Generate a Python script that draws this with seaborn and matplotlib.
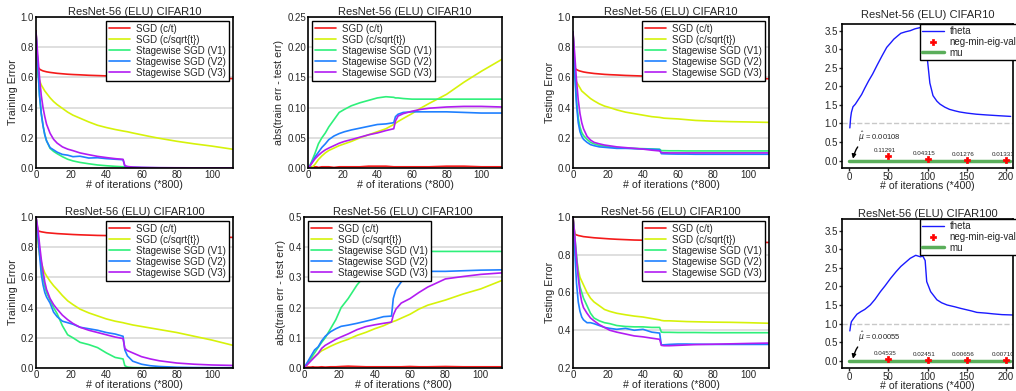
import numpy as np
import pandas as pd
import seaborn as sns
import matplotlib.pyplot as plt

sns.set_theme(style='white')
plt.rcParams['font.family'] = ['Liberation Sans', 'DejaVu Sans']
plt.rcParams['axes.edgecolor'] = 'black'
plt.rcParams['axes.linewidth'] = 1.2
plt.rcParams['mathtext.fontset'] = 'dejavusans'

methods = ['SGD (c/t)', 'SGD (c/sqrt{t})', 'Stagewise SGD (V1)',
           'Stagewise SGD (V2)', 'Stagewise SGD (V3)']
colors = ['#f41a1a', '#d6f20a', '#2ef07a', '#1f80ff', '#b21cf2']

# epochs (x800 iterations)
epochs = [0, 1, 2, 3, 4, 5, 6, 8, 10, 12, 15, 18, 21, 25, 30, 35, 40, 45, 49.5,
          50.5, 52, 55, 60, 65, 70, 80, 90, 100, 112]

# CIFAR10 training error
c10_train_ct = [0.91, 0.67, 0.655, 0.648, 0.643, 0.64, 0.637, 0.633, 0.63, 0.627, 0.624, 0.621, 0.619, 0.617,
                0.614, 0.612, 0.61, 0.608, 0.606, 0.605, 0.605, 0.604, 0.602, 0.601, 0.6, 0.598, 0.596, 0.594, 0.592]
c10_train_sqrt = [0.9, 0.62, 0.58, 0.55, 0.53, 0.51, 0.495, 0.465, 0.44, 0.42, 0.395, 0.37, 0.35, 0.33,
                  0.305, 0.283, 0.268, 0.255, 0.245, 0.243, 0.24, 0.232, 0.22, 0.208, 0.197, 0.177, 0.16, 0.145, 0.124]
c10_train_v1 = [0.9, 0.68, 0.48, 0.36, 0.28, 0.22, 0.18, 0.13, 0.11, 0.095, 0.075, 0.058, 0.047, 0.037,
                0.028, 0.02, 0.015, 0.011, 0.008, 0.004, 0.003, 0.002, 0.001, 0.001, 0.001, 0.001, 0.001, 0.001, 0.001]
c10_train_v2 = [0.9, 0.68, 0.48, 0.36, 0.28, 0.22, 0.18, 0.135, 0.12, 0.105, 0.09, 0.085, 0.075, 0.078,
                0.066, 0.068, 0.062, 0.058, 0.055, 0.012, 0.008, 0.005, 0.003, 0.002, 0.0015, 0.001, 0.001, 0.001, 0.001]
c10_train_v3 = [0.9, 0.75, 0.6, 0.48, 0.4, 0.34, 0.29, 0.23, 0.19, 0.165, 0.14, 0.125, 0.115, 0.1,
                0.088, 0.077, 0.069, 0.062, 0.057, 0.015, 0.01, 0.006, 0.004, 0.003, 0.002, 0.0015, 0.001, 0.001, 0.001]

# CIFAR10 |train err - test err|
c10_gap_ct = [0, 0.001, 0.002, 0.002, 0.002, 0.002, 0.001, 0.002, 0.002, 0.002, 0.001, 0.002, 0.002, 0.002,
              0.002, 0.003, 0.003, 0.003, 0.002, 0.002, 0.002, 0.002, 0.002, 0.002, 0.002, 0.003, 0.003, 0.002, 0.002]
c10_gap_sqrt = [0, 0.0, 0.001, 0.003, 0.006, 0.01, 0.014, 0.02, 0.025, 0.029, 0.033, 0.037, 0.04, 0.044,
                0.05, 0.055, 0.06, 0.065, 0.072, 0.074, 0.077, 0.082, 0.09, 0.099, 0.107, 0.122, 0.142, 0.16, 0.18]
c10_gap_v1 = [0, 0.004, 0.01, 0.017, 0.024, 0.032, 0.04, 0.05, 0.058, 0.068, 0.08, 0.092, 0.097, 0.103,
              0.108, 0.112, 0.116, 0.118, 0.117, 0.116, 0.116, 0.115, 0.114, 0.114, 0.114, 0.114, 0.114, 0.114, 0.114]
c10_gap_v2 = [0, 0.003, 0.008, 0.013, 0.018, 0.022, 0.026, 0.034, 0.04, 0.047, 0.053, 0.057, 0.06, 0.063,
              0.066, 0.069, 0.072, 0.073, 0.075, 0.085, 0.089, 0.092, 0.093, 0.093, 0.093, 0.093, 0.092, 0.091, 0.091]
c10_gap_v3 = [0, 0.003, 0.007, 0.011, 0.015, 0.018, 0.021, 0.026, 0.03, 0.033, 0.037, 0.041, 0.044, 0.047,
              0.051, 0.055, 0.058, 0.062, 0.065, 0.078, 0.086, 0.09, 0.094, 0.097, 0.099, 0.101, 0.102, 0.102, 0.101]

# CIFAR10 testing error
c10_test_ct = [0.9, 0.66, 0.652, 0.646, 0.642, 0.639, 0.636, 0.632, 0.629, 0.626, 0.623, 0.62, 0.618, 0.616,
               0.613, 0.611, 0.609, 0.607, 0.605, 0.604, 0.604, 0.603, 0.601, 0.6, 0.599, 0.597, 0.595, 0.593, 0.591]
c10_test_sqrt = [0.9, 0.6, 0.57, 0.55, 0.53, 0.51, 0.5, 0.48, 0.46, 0.445, 0.425, 0.41, 0.4, 0.385,
                 0.37, 0.36, 0.35, 0.34, 0.335, 0.333, 0.33, 0.328, 0.325, 0.32, 0.315, 0.31, 0.307, 0.305, 0.302]
c10_test_v1 = [0.9, 0.65, 0.45, 0.33, 0.27, 0.235, 0.215, 0.19, 0.17, 0.16, 0.15, 0.145, 0.14, 0.135,
               0.132, 0.13, 0.128, 0.126, 0.124, 0.115, 0.115, 0.114, 0.114, 0.113, 0.113, 0.113, 0.113, 0.113, 0.113]
c10_test_v2 = [0.9, 0.62, 0.42, 0.3, 0.24, 0.21, 0.19, 0.17, 0.155, 0.148, 0.14, 0.137, 0.134, 0.13,
               0.13, 0.128, 0.126, 0.124, 0.122, 0.095, 0.094, 0.093, 0.092, 0.092, 0.091, 0.091, 0.091, 0.091, 0.091]
c10_test_v3 = [0.9, 0.75, 0.58, 0.45, 0.36, 0.3, 0.26, 0.21, 0.185, 0.17, 0.16, 0.152, 0.147, 0.14,
               0.135, 0.13, 0.125, 0.118, 0.113, 0.102, 0.101, 0.1, 0.1, 0.1, 0.1, 0.1, 0.1, 0.1, 0.1]

# CIFAR100 training error
c100_train_ct = [1.0, 0.91, 0.905, 0.902, 0.9, 0.898, 0.896, 0.894, 0.892, 0.89, 0.888, 0.886, 0.884, 0.882,
                 0.88, 0.878, 0.877, 0.876, 0.875, 0.875, 0.874, 0.874, 0.873, 0.872, 0.871, 0.869, 0.868, 0.867, 0.865]
c100_train_sqrt = [1.0, 0.85, 0.75, 0.7, 0.66, 0.63, 0.61, 0.575, 0.545, 0.52, 0.48, 0.445, 0.42, 0.39,
                   0.365, 0.345, 0.325, 0.31, 0.3, 0.297, 0.293, 0.285, 0.275, 0.265, 0.255, 0.235, 0.21, 0.185, 0.15]
c100_train_v1 = [1.0, 0.9, 0.78, 0.68, 0.6, 0.54, 0.5, 0.45, 0.4, 0.36, 0.28, 0.22, 0.2, 0.17,
                 0.155, 0.135, 0.1, 0.07, 0.06, 0.015, 0.006, 0.003, 0.002, 0.001, 0.001, 0.001, 0.001, 0.001, 0.001]
c100_train_v2 = [1.0, 0.88, 0.75, 0.62, 0.55, 0.5, 0.47, 0.43, 0.37, 0.34, 0.31, 0.3, 0.29, 0.27,
                 0.26, 0.25, 0.235, 0.225, 0.21, 0.12, 0.08, 0.045, 0.025, 0.015, 0.01, 0.005, 0.003, 0.002, 0.002]
c100_train_v3 = [1.0, 0.93, 0.82, 0.72, 0.64, 0.57, 0.52, 0.46, 0.42, 0.39, 0.35, 0.32, 0.295, 0.27,
                 0.25, 0.235, 0.22, 0.205, 0.195, 0.13, 0.115, 0.1, 0.075, 0.06, 0.048, 0.033, 0.025, 0.02, 0.017]

# CIFAR100 |train err - test err|
c100_gap_ct = [0, 0.002, 0.003, 0.003, 0.003, 0.004, 0.003, 0.003, 0.004, 0.003, 0.004, 0.004, 0.005, 0.006,
               0.005, 0.004, 0.004, 0.004, 0.004, 0.004, 0.004, 0.004, 0.005, 0.004, 0.004, 0.005, 0.004, 0.004, 0.004]
c100_gap_sqrt = [0, 0.005, 0.012, 0.02, 0.027, 0.033, 0.038, 0.048, 0.057, 0.063, 0.072, 0.08, 0.087, 0.095,
                 0.108, 0.118, 0.13, 0.14, 0.152, 0.154, 0.157, 0.165, 0.178, 0.195, 0.208, 0.225, 0.245, 0.262, 0.29]
c100_gap_v1 = [0, 0.008, 0.016, 0.024, 0.032, 0.042, 0.05, 0.068, 0.085, 0.1, 0.13, 0.16, 0.2, 0.23,
               0.275, 0.31, 0.34, 0.36, 0.375, 0.378, 0.38, 0.383, 0.385, 0.386, 0.386, 0.386, 0.386, 0.386, 0.386]
c100_gap_v2 = [0, 0.01, 0.02, 0.03, 0.04, 0.05, 0.06, 0.07, 0.09, 0.105, 0.12, 0.13, 0.138, 0.142,
               0.148, 0.155, 0.162, 0.17, 0.172, 0.23, 0.26, 0.285, 0.31, 0.318, 0.32, 0.32, 0.322, 0.324, 0.325]
c100_gap_v3 = [0, 0.006, 0.012, 0.018, 0.024, 0.03, 0.036, 0.048, 0.065, 0.075, 0.085, 0.095, 0.103, 0.113,
               0.127, 0.137, 0.143, 0.148, 0.152, 0.175, 0.195, 0.215, 0.23, 0.25, 0.268, 0.295, 0.303, 0.31, 0.315]

# CIFAR100 testing error
c100_test_ct = [1.0, 0.91, 0.905, 0.902, 0.9, 0.898, 0.896, 0.894, 0.892, 0.89, 0.888, 0.886, 0.884, 0.882,
                0.88, 0.878, 0.877, 0.876, 0.875, 0.875, 0.874, 0.874, 0.873, 0.872, 0.871, 0.869, 0.868, 0.867, 0.865]
c100_test_sqrt = [1.0, 0.88, 0.78, 0.72, 0.68, 0.66, 0.64, 0.6, 0.57, 0.55, 0.53, 0.51, 0.5, 0.49,
                  0.482, 0.475, 0.47, 0.462, 0.455, 0.452, 0.45, 0.45, 0.448, 0.446, 0.445, 0.443, 0.442, 0.44, 0.437]
c100_test_v1 = [1.0, 0.9, 0.8, 0.7, 0.63, 0.6, 0.57, 0.53, 0.49, 0.465, 0.45, 0.44, 0.435, 0.425,
                0.42, 0.418, 0.418, 0.415, 0.415, 0.39, 0.389, 0.389, 0.388, 0.388, 0.388, 0.387, 0.387, 0.387, 0.387]
c100_test_v2 = [1.0, 0.82, 0.65, 0.55, 0.5, 0.47, 0.455, 0.44, 0.44, 0.435, 0.425, 0.415, 0.41, 0.405,
                0.41, 0.4, 0.405, 0.39, 0.385, 0.322, 0.323, 0.325, 0.327, 0.327, 0.326, 0.325, 0.325, 0.325, 0.325]
c100_test_v3 = [1.0, 0.9, 0.78, 0.68, 0.6, 0.55, 0.52, 0.49, 0.465, 0.45, 0.43, 0.415, 0.4, 0.39,
                0.38, 0.37, 0.365, 0.358, 0.352, 0.32, 0.318, 0.318, 0.32, 0.322, 0.324, 0.326, 0.328, 0.33, 0.332]

# theta / eigenvalue panels (x400 iterations)
c10_theta_x = [1, 2, 3, 5, 8, 12, 16, 20, 25, 30, 36, 42, 48, 53, 57, 62, 66, 72, 78, 84, 90, 95, 98,
               100, 103, 107, 112, 116, 122, 128, 135, 141, 150, 162, 175, 190, 206]
c10_theta = [0.88, 1.15, 1.3, 1.45, 1.52, 1.65, 1.78, 1.95, 2.15, 2.33, 2.58, 2.82, 3.05, 3.17, 3.27, 3.36,
             3.43, 3.47, 3.5, 3.55, 3.58, 3.6, 3.5, 2.7, 2.09, 1.75, 1.6, 1.52, 1.44, 1.38, 1.34, 1.31,
             1.28, 1.25, 1.23, 1.21, 1.19]
c100_theta_x = [1, 2, 3, 6, 10, 15, 20, 27, 33, 40, 46, 53, 60, 66, 72, 78, 85, 88, 91, 94, 97, 99,
                104, 112, 118, 125, 135, 142, 150, 156, 163, 175, 184, 195, 209]
c100_theta = [0.8, 0.95, 1.05, 1.14, 1.25, 1.32, 1.38, 1.5, 1.65, 1.86, 2.02, 2.22, 2.4, 2.54, 2.65, 2.76,
              2.84, 2.82, 2.8, 2.82, 2.7, 2.13, 1.86, 1.64, 1.56, 1.5, 1.45, 1.41, 1.37, 1.34, 1.3, 1.28,
              1.26, 1.24, 1.23]
eig_iters = [50, 100, 150, 200]
c10_neg_eig = [0.11291, 0.04315, 0.01276, 0.01331]
c100_neg_eig = [0.04535, 0.02451, 0.00656, 0.00710]
mu_span = [0, 205]
c10_mu = 0.00108
c100_mu = 0.00055

W, H = 1016, 391
fig = plt.figure(figsize=(W / 100, H / 100), dpi=100)


def box(l, t, r, b):
    return [l / W, 1 - b / H, (r - l) / W, (b - t) / H]


def curve_panel(rect, series, title, ylabel, ylim, yticks, fmt, legend_loc):
    ax = fig.add_axes(box(*rect))
    df = pd.DataFrame({
        'iter': epochs * len(series),
        'err': sum(series, []),
        'method': np.repeat(methods, len(epochs)),
    })
    sns.lineplot(data=df, x='iter', y='err', hue='method', hue_order=methods,
                 palette=dict(zip(methods, colors)), ax=ax, lw=1.2,
                 sort=False, estimator=None)
    ax.set_xlim(0, 112)
    ax.set_ylim(*ylim)
    ax.set_xticks([0, 20, 40, 60, 80, 100])
    ax.set_yticks(yticks)
    ax.set_yticklabels([fmt.format(v) for v in yticks])
    ax.yaxis.grid(True, color='#d6d6d6', lw=1.1)
    ax.set_axisbelow(True)
    ax.tick_params(length=0, labelsize=7, pad=1.5)
    ax.set_title(title, fontsize=8, pad=1.5)
    ax.set_xlabel('# of iterations (*800)', fontsize=7.7, labelpad=0)
    ax.set_ylabel(ylabel, fontsize=7.7, labelpad=2)
    ax.legend(loc=legend_loc, fontsize=7, frameon=True, fancybox=False, framealpha=1,
              edgecolor='black', borderaxespad=0.4, labelspacing=0.1, borderpad=0.3,
              handlelength=2.2, handletextpad=0.6)
    ax.get_legend().get_frame().set_linewidth(1.0)
    return ax


def theta_panel(rect, tx, ty, neg_eig, mu, title, title_pad, ytop):
    ax = fig.add_axes(box(*rect))
    ax.axhline(1.0, color='#c8c8c8', ls='--', lw=1, zorder=1)
    sns.lineplot(x=tx, y=ty, ax=ax, color='#1a1aff', lw=1, label='theta',
                 sort=False, estimator=None)
    sns.lineplot(x=mu_span, y=[mu] * len(mu_span), ax=ax, color='#5aae5a', lw=2.5,
                 label='mu', estimator=None)
    sns.scatterplot(x=eig_iters, y=neg_eig, ax=ax, color='red', marker='P', s=20,
                    edgecolor='red', linewidth=0.5, label='neg-min-eig-val', zorder=5)
    for xi, v in zip(eig_iters, neg_eig):
        ax.text(xi - 4, v + 0.15, f'{v:.5f}', ha='center', va='center', fontsize=4.5)
    ax.annotate(r'$\hat{\mu}$ = ' + f'{mu:.5f}', xy=(5, 0.05), xytext=(12, 0.65),
                fontsize=5.5, va='center',
                arrowprops=dict(arrowstyle='-|>', color='black', lw=1, mutation_scale=6,
                                connectionstyle='arc3,rad=0.4', shrinkA=0, shrinkB=0))
    ax.set_xlim(-9, 209)
    ax.set_ylim(-0.2, ytop)
    ax.set_xticks([0, 50, 100, 150, 200])
    ax.set_yticks([0, 0.5, 1.0, 1.5, 2.0, 2.5, 3.0, 3.5])
    ax.tick_params(bottom=True, left=True, direction='out', length=2, width=1,
                   labelsize=7, pad=1)
    ax.set_title(title, fontsize=8, pad=title_pad)
    ax.set_xlabel('# of iterations (*400)', fontsize=7.6, labelpad=-1)
    ax.set_ylabel('')
    handles, labels = ax.get_legend_handles_labels()
    order = [labels.index(n) for n in ['theta', 'neg-min-eig-val', 'mu']]
    ax.legend([handles[i] for i in order], [labels[i] for i in order], loc='upper right',
              bbox_to_anchor=(1.03, 1.0), fontsize=7, frameon=True, fancybox=False,
              framealpha=1, edgecolor='black', borderaxespad=0, labelspacing=0.1,
              borderpad=0.2, handlelength=2.2, handletextpad=0.6, scatterpoints=1)
    ax.get_legend().get_frame().set_linewidth(1.0)
    return ax


yt1 = [0.0, 0.2, 0.4, 0.6, 0.8, 1.0]
curve_panel((36, 17, 233, 168), [c10_train_ct, c10_train_sqrt, c10_train_v1, c10_train_v2, c10_train_v3],
            'ResNet-56 (ELU) CIFAR10', 'Training Error', (0, 1), yt1, '{:.1f}', 'upper right')
curve_panel((308, 17, 502, 168), [c10_gap_ct, c10_gap_sqrt, c10_gap_v1, c10_gap_v2, c10_gap_v3],
            'ResNet-56 (ELU) CIFAR10', 'abs(train err - test err)', (0, 0.25),
            [0, 0.05, 0.10, 0.15, 0.20, 0.25], '{:.2f}', 'upper left')
curve_panel((573, 17, 769, 168), [c10_test_ct, c10_test_sqrt, c10_test_v1, c10_test_v2, c10_test_v3],
            'ResNet-56 (ELU) CIFAR10', 'Testing Error', (0, 1), yt1, '{:.1f}', 'upper right')
theta_panel((842, 24, 1013, 168), c10_theta_x, c10_theta, c10_neg_eig, c10_mu,
            'ResNet-56 (ELU) CIFAR10', 4, 3.68)

curve_panel((36, 217, 233, 368), [c100_train_ct, c100_train_sqrt, c100_train_v1, c100_train_v2, c100_train_v3],
            'ResNet-56 (ELU) CIFAR100', 'Training Error', (0, 1), yt1, '{:.1f}', 'upper right')
curve_panel((304, 217, 502, 368), [c100_gap_ct, c100_gap_sqrt, c100_gap_v1, c100_gap_v2, c100_gap_v3],
            'ResNet-56 (ELU) CIFAR100', 'abs(train err - test err)', (0, 0.5),
            [0, 0.1, 0.2, 0.3, 0.4, 0.5], '{:.1f}', 'upper left')
curve_panel((573, 217, 769, 368), [c100_test_ct, c100_test_sqrt, c100_test_v1, c100_test_v2, c100_test_v3],
            'ResNet-56 (ELU) CIFAR100', 'Testing Error', (0.2, 1), [0.2, 0.4, 0.6, 0.8, 1.0],
            '{:.1f}', 'upper right')
theta_panel((842, 219, 1013, 368), c100_theta_x, c100_theta, c100_neg_eig, c100_mu,
            'ResNet-56 (ELU) CIFAR100', 1.5, 3.82)

fig.savefig('out.png', dpi=100)
